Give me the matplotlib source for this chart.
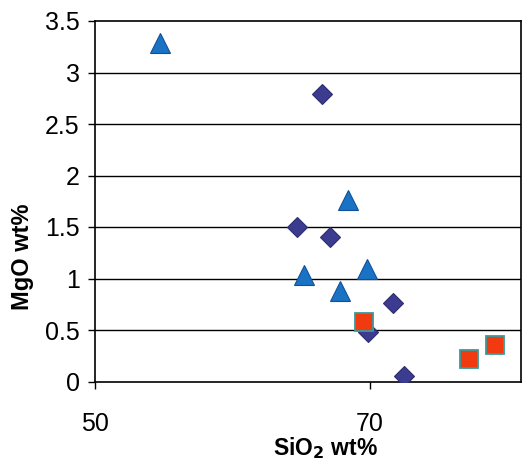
import matplotlib
matplotlib.use("Agg")
import matplotlib.pyplot as plt

plt.rcParams['font.family'] = ['Liberation Sans', 'DejaVu Sans']

# Data
tri_x = [54.7, 68.4, 65.2, 69.8, 67.8]
tri_y = [3.29, 1.76, 1.03, 1.09, 0.88]
dia_x = [66.5, 64.7, 67.1, 71.7, 69.9, 72.5]
dia_y = [2.79, 1.50, 1.40, 0.76, 0.48, 0.05]
sq_x = [69.6, 77.2, 79.1]
sq_y = [0.58, 0.22, 0.35]
x_ticks = [50, 70]
y_ticks = [0, 0.5, 1, 1.5, 2, 2.5, 3, 3.5]
y_tick_labels = ['0', '0.5', '1', '1.5', '2', '2.5', '3', '3.5']

W, H = 530, 468
fig = plt.figure(figsize=(5.3, 4.68), dpi=100)
ax = fig.add_axes([95/W, 1-381.5/H, (521-95)/W, (381.5-21)/H])

ax.set_xlim(50, 81)
ax.set_ylim(0, 3.5)
ax.set_yticks(y_ticks)
ax.set_yticklabels(y_tick_labels)
ax.set_xticks(x_ticks)
ax.set_xticklabels([str(v) for v in x_ticks])

for yv in y_ticks[1:-1]:
    ax.axhline(yv, color='black', lw=1.0, zorder=1)

ax.plot(dia_x, dia_y, linestyle='none', marker='D', ms=10.5,
        mfc='#3b3b8f', mec='#2e2e70', mew=0.8, zorder=3)
ax.plot(tri_x, tri_y, linestyle='none', marker='^', ms=14.5,
        mfc='#1a72c4', mec='#10509a', mew=0.8, zorder=3)
ax.plot(sq_x, sq_y, linestyle='none', marker='s', ms=13,
        mfc='#f23a10', mec='#3a9a9a', mew=1.3, zorder=4)

for s in ax.spines.values():
    s.set_linewidth(1.2)
    s.set_color('black')

ax.tick_params(axis='y', direction='out', length=5, width=1, labelsize=18, pad=6)
ax.tick_params(axis='x', direction='out', length=5, width=1, labelsize=18, pad=17)

fig.text(325/W, 1-455/H, 'SiO$_\\mathbf{2}$ wt%', fontsize=16.5, fontweight='bold',
         ha='center', va='baseline')
fig.text(23/W, 1-257/H, 'MgO wt%', fontsize=17, fontweight='bold',
         ha='center', va='center', rotation=90)

fig.savefig('out.png', dpi=100)
